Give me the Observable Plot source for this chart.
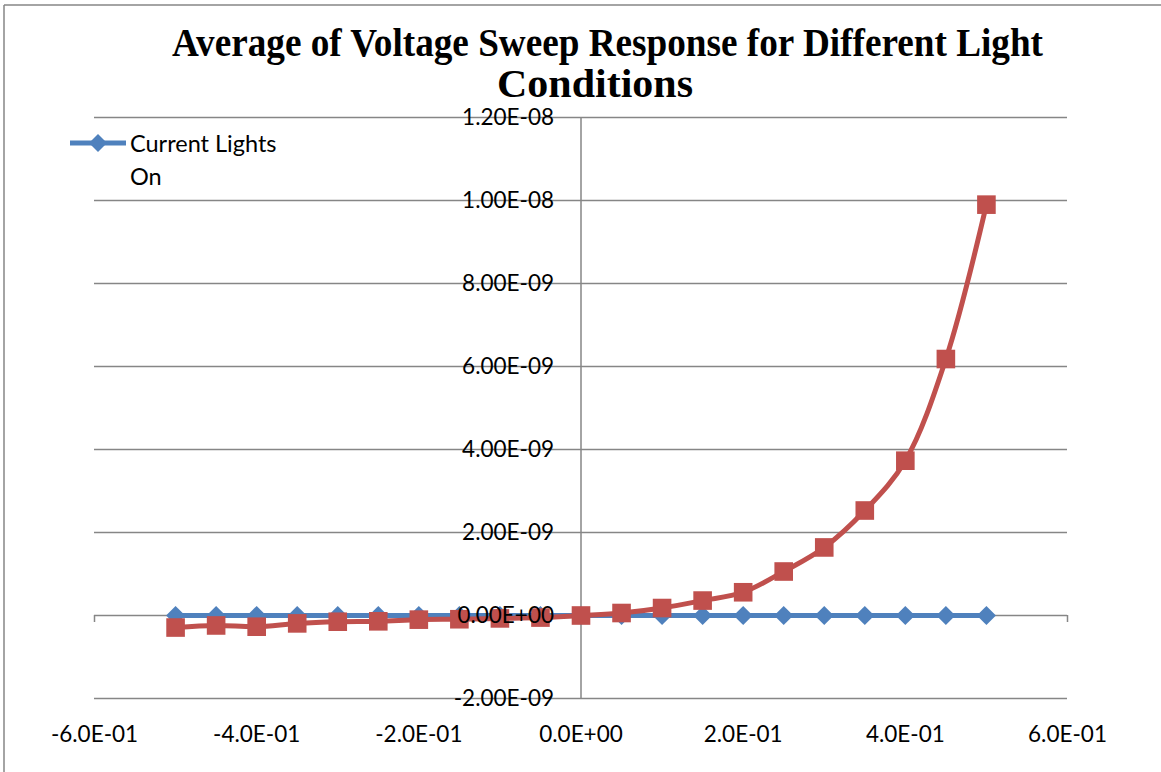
<!DOCTYPE html>
<html>
<head>
<meta charset="utf-8">
<script src="https://cdn.jsdelivr.net/npm/d3@7"></script>
<script src="https://cdn.jsdelivr.net/npm/@observablehq/plot@0.6"></script>
<style>
  html, body { margin: 0; padding: 0; background: #fff; }
  #wrap { position: relative; width: 1161px; height: 772px; overflow: hidden; background: #fff; }
  #chart { position: absolute; left: 0; top: 0; }
  #overlay { position: absolute; left: 0; top: 0; pointer-events: none; }
</style>
</head>
<body>
<div id="wrap">
  <div id="chart"></div>
  <svg id="overlay" width="1161" height="772" xmlns="http://www.w3.org/2000/svg">
    <line x1="4" y1="5" x2="1161" y2="5" stroke="#868686" stroke-width="1.5"/>
    <line x1="4" y1="5" x2="4" y2="772" stroke="#868686" stroke-width="1.5"/>
    <text x="172" y="56" font-family="Liberation Serif, Times New Roman, serif" font-weight="bold" font-size="39" textLength="871" lengthAdjust="spacingAndGlyphs" fill="#000">Average of Voltage Sweep Response for Different Light</text>
    <text x="497" y="97" font-family="Liberation Serif, Times New Roman, serif" font-weight="bold" font-size="39" textLength="196" lengthAdjust="spacingAndGlyphs" fill="#000">Conditions</text>
    <g id="legend">
      <line x1="70" y1="143" x2="126" y2="143" stroke="#4F81BD" stroke-width="5"/>
      <path d="M98,134 L107,143 L98,152 L89,143 Z" fill="#4F81BD"/>
      <text x="130" y="152" font-family="Lato, sans-serif" font-size="23.5" fill="#000">Current Lights</text>
      <text x="130" y="185" font-family="Lato, sans-serif" font-size="23.5" fill="#000">On</text>
    </g>
  </svg>
</div>
<script>
// ---- data ----
const voltage = [-0.5, -0.45, -0.4, -0.35, -0.3, -0.25, -0.2, -0.15, -0.1, -0.05, 0,
                 0.05, 0.1, 0.15, 0.2, 0.25, 0.3, 0.35, 0.4, 0.45, 0.5];
const currentLightsOn = [0, 0, 0, 0, 0, 0, 0, 0, 0, 0, 0,
                         0, 0, 0, 0, 0, 0, 0, 0, 0, 0];
const currentLightsOff = [-2.9e-10, -2.4e-10, -2.7e-10, -1.9e-10, -1.5e-10, -1.4e-10, -1.0e-10, -0.9e-10, -0.7e-10, -0.5e-10, 0,
                          0.6e-10, 1.8e-10, 3.6e-10, 5.6e-10, 1.06e-9, 1.64e-9, 2.53e-9, 3.73e-9, 6.18e-9, 9.90e-9];
const xTicks = [-0.6, -0.4, -0.2, 0, 0.2, 0.4, 0.6];
const yTicks = [-2e-9, 0, 2e-9, 4e-9, 6e-9, 8e-9, 1e-8, 1.2e-8];

// ---- helpers ----
function excelExp(d, digits) {
  const s = d.toExponential(digits);
  const [m, e] = s.split("e");
  const n = +e;
  return m + "E" + (n < 0 ? "-" : "+") + String(Math.abs(n)).padStart(2, "0");
}

const blue = voltage.map((v, i) => ({x: v, y: currentLightsOn[i]}));
const red = voltage.map((v, i) => ({x: v, y: currentLightsOff[i]}));

const FONT = "Lato, sans-serif";

const chart = Plot.plot({
  width: 1161,
  height: 772,
  marginLeft: 94,
  marginRight: 94,
  marginTop: 117,
  marginBottom: 74,
  style: {fontFamily: FONT, fontSize: "22.5px", color: "#000", background: "transparent"},
  x: {domain: [-0.6, 0.6], axis: null},
  y: {domain: [-2e-9, 1.2e-8], axis: null},
  marks: [
    Plot.ruleY(yTicks, {stroke: "#868686", strokeWidth: 1.5}),
    Plot.ruleX([0], {stroke: "#868686", strokeWidth: 1.5}),
    Plot.ruleX(xTicks, {y1: 0, y2: 0, insetBottom: -7, stroke: "#868686", strokeWidth: 1.5}),
    Plot.axisX({ticks: xTicks, tickFormat: d => excelExp(d, 1), tickSize: 0, tickPadding: 28, label: null, fontSize: 22.5, fill: "#000"}),
    Plot.line(blue, {x: "x", y: "y", stroke: "#4F81BD", strokeWidth: 5}),
    Plot.dot(blue, {x: "x", y: "y", symbol: "diamond2", r: 8.6, fill: "#4F81BD", stroke: "none"}),
    Plot.line(red, {x: "x", y: "y", stroke: "#C0504D", strokeWidth: 5, curve: "catmull-rom"}),
    Plot.dot(red, {x: "x", y: "y", symbol: "square", r: 10.5, fill: "#C0504D", stroke: "none"}),
    Plot.text(yTicks, {x: () => 0, y: d => d, text: d => excelExp(d, 2), dx: -27, textAnchor: "end", fontSize: 22.5, fill: "#000"})
  ]
});
document.getElementById("chart").appendChild(chart);
</script>
</body>
</html>
